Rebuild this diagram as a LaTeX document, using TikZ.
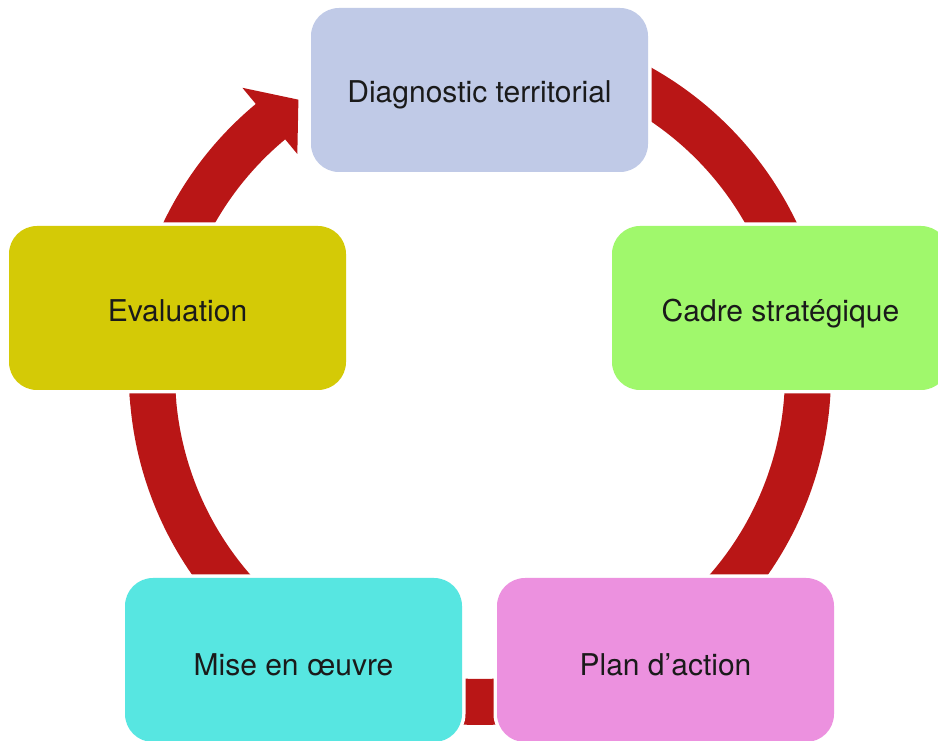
\documentclass[tikz,border=0pt]{standalone}
\usepackage{fontspec}
\setmainfont{TeX Gyre Heros}
\definecolor{diagC}{HTML}{C0CAE7}
\definecolor{cadreC}{HTML}{A0F86C}
\definecolor{planC}{HTML}{EC91DF}
\definecolor{miseC}{HTML}{57E6E1}
\definecolor{evalC}{HTML}{D4CA06}
\definecolor{ringC}{HTML}{B91616}
\definecolor{txtC}{HTML}{1A1A1A}
\begin{document}
\begin{tikzpicture}[x=1pt,y=1pt,
  stage/.style={rectangle, rounded corners=28pt, minimum width=337pt,
    minimum height=164pt, inner sep=0pt, text=txtC,
    font=\fontsize{30}{34}\selectfont, text depth=0pt,
    preaction={draw=white, line width=7pt}},
  toprow/.style={text height=24.5pt},
  midrow/.style={text height=27.5pt},
  lowrow/.style={text height=30.5pt},
  ring/.style={fill=ringC, draw=none}]
\useasboundingbox (0,0) rectangle (938,740);
\clip (0,0) rectangle (938,740);

% centre of the cycle
\coordinate (c) at (480,366);

% ring segments between the stages (ends are hidden under the boxes)
\begin{scope}[shift={(c)}]
  \fill[ring] (75:351) arc[start angle=75, end angle=15, radius=351]
    -- (15:305) arc[start angle=15, end angle=75, radius=305] -- cycle;
  \fill[ring] (5:351) arc[start angle=5, end angle=-60, radius=351]
    -- (-60:305) arc[start angle=-60, end angle=5, radius=305] -- cycle;
  \fill[ring] (-70:351) arc[start angle=-70, end angle=-110, radius=351]
    -- (-110:305) arc[start angle=-110, end angle=-70, radius=305] -- cycle;
  \fill[ring] (-120:351) arc[start angle=-120, end angle=-185, radius=351]
    -- (-185:305) arc[start angle=-185, end angle=-120, radius=305] -- cycle;
  % closing arrow with its head
  \fill[ring] (185:351) arc[start angle=185, end angle=129.7, radius=351]
    -- (129.7:372) -- (123.5:329) -- (129.7:286)
    -- (129.7:305) arc[start angle=129.7, end angle=185, radius=305] -- cycle;
\end{scope}

% stages
\node[stage, toprow, fill=diagC]  (diag)  at (479.5,650) {Diagnostic territorial};
\node[stage, midrow, fill=cadreC] (cadre) at (780.5,432) {Cadre stratégique};
\node[stage, lowrow, fill=planC]  (plan)  at (665.5,80)  {Plan d’action};
\node[stage, lowrow, fill=miseC]  (mise)  at (293.5,80)  {Mise en œuvre};
\node[stage, midrow, fill=evalC]  (eval)  at (177.5,432) {Evaluation};
\end{tikzpicture}
\end{document}
